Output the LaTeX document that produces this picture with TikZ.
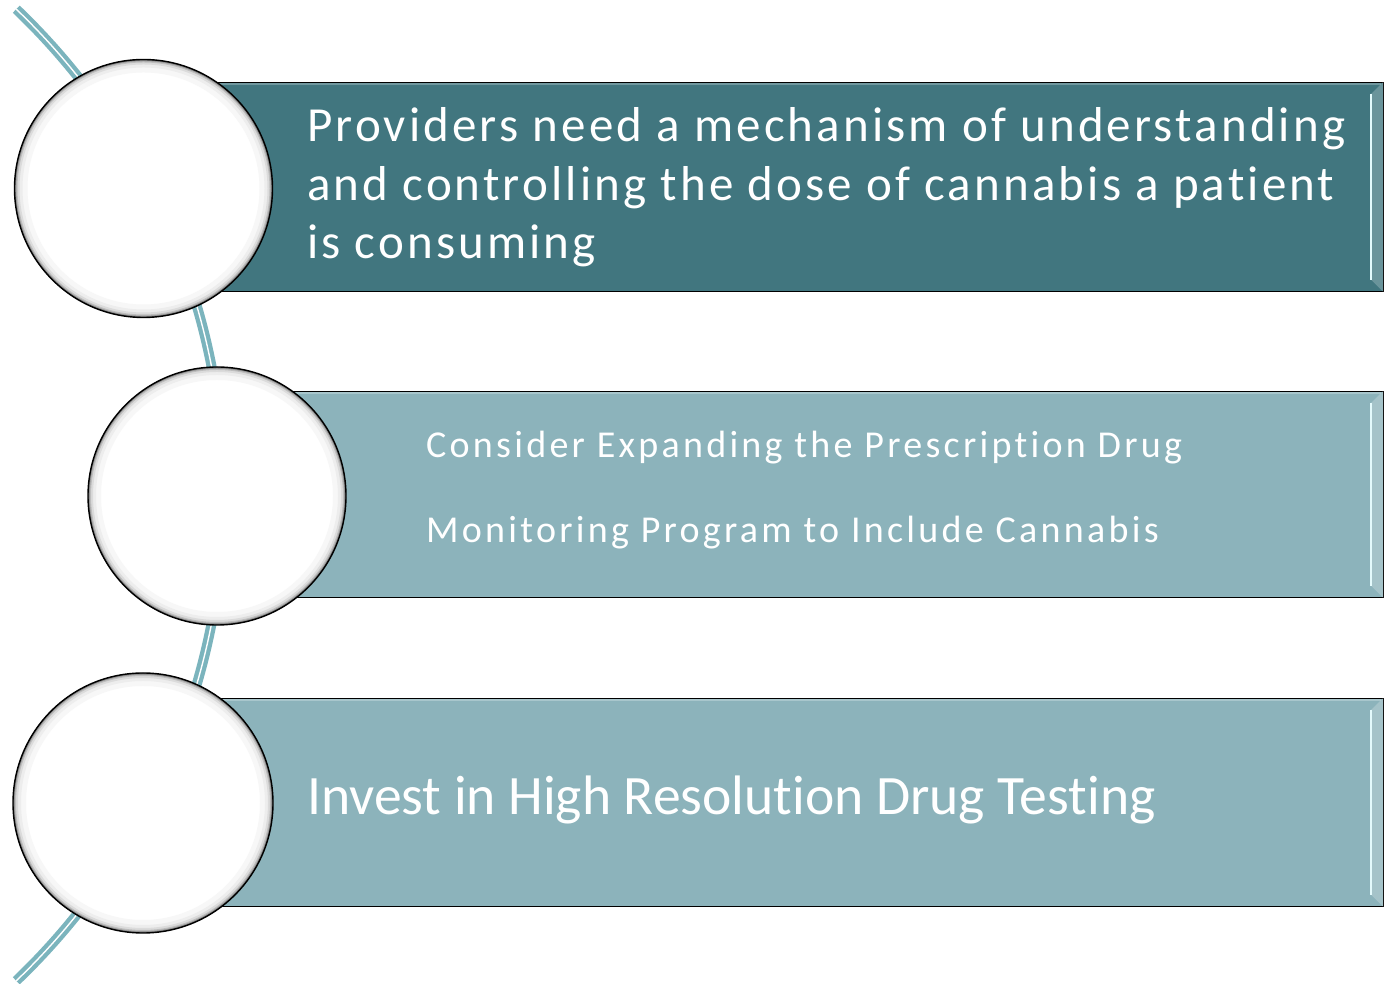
\documentclass[tikz,border=0pt]{standalone}
\usepackage{fontspec}
\setmainfont{Carlito}[Ligatures=NoCommon]
\newfontfamily\textA{Carlito}[LetterSpace=6.4,Ligatures=NoCommon]
\newfontfamily\textB{Carlito}[LetterSpace=8.6,Ligatures=NoCommon]
\begin{document}
\begin{tikzpicture}[x=1pt,y=1pt]
\definecolor{darkteal}{HTML}{41767F}
\definecolor{lightteal}{HTML}{8CB3BB}
\definecolor{arcteal}{HTML}{7BB4BD}
\definecolor{bevel}{HTML}{E4FAFC}
\tikzset{
  bar/.style={draw=black, line width=1.4pt, anchor=south west, inner sep=0pt},
  bubblenode/.style={circle, draw=black, line width=1.4pt, fill=white, inner sep=0pt,
    path picture={
      \foreach \w/\c in {26/3, 16/7, 10/14, 6/26, 3.5/42, 1.6/62}{
        \draw[line width=\w pt, black!\c] (path picture bounding box.center) circle (#1);
      }
    }},
  bartext/.style={text=white, anchor=base west, align=left, inner sep=0pt},
  bevelface/.style={fill=white, fill opacity=0.22, draw=none},
  ridge/.style={line width=2pt, color=bevel},
  tophl/.style={line width=1.5pt, white, opacity=0.25},
  spine/.style={color=arcteal, line width=10pt},
  spinecore/.style={color=white, line width=1.4pt}
}
\useasboundingbox (0,0) rectangle (1396,984);
% spine arc
\coordinate (ac) at (-448,489);
\draw[spine] (ac) ++(46.3:672) arc[start angle=46.3, end angle=-46.3, radius=672];
\draw[spinecore] (ac) ++(46.3:672) arc[start angle=46.3, end angle=-46.3, radius=672];
% bars
\node[bar, fill=darkteal, minimum width=1240, minimum height=209] (b1) at (143,692) {};
\node[bar, fill=lightteal, minimum width=1166, minimum height=206] (b2) at (217,386) {};
\node[bar, fill=lightteal, minimum width=1240, minimum height=208] (b3) at (143,77) {};
% bevels
\foreach \b in {b1,b2,b3}{
  \draw[tophl] ([yshift=-2.5]\b.north west) -- ([xshift=-3,yshift=-2.5]\b.north east);
  \fill[bevelface] ([xshift=-1]\b.north east) -- ([xshift=-13,yshift=-12]\b.north east) -- ([xshift=-13,yshift=12]\b.south east) -- ([xshift=-1]\b.south east) -- cycle;
  \draw[ridge] ([xshift=-13,yshift=-12]\b.north east) -- ([xshift=-13,yshift=12]\b.south east);
}
% circles
\node[bubblenode=129, minimum size=258] (c1) at (143.5,795.5) {};
\node[bubblenode=129, minimum size=258] (c2) at (217,488) {};
\node[bubblenode=130, minimum size=260] (c3) at (143,181) {};
% texts
\node[bartext, font=\textA\fontsize{49}{58.5}\selectfont] (t1) at (307,725) {Providers need a mechanism of understanding\\and controlling the dose of cannabis a patient\\is consuming};
\node[bartext, font=\textB\fontsize{38}{85}\selectfont] (t2) at (426,441) {Consider Expanding the Prescription Drug\\Monitoring Program to Include Cannabis};
\node[bartext, font=\fontsize{55.6}{60}\selectfont] (t3) at (307,169) {Invest in High Resolution Drug Testing};
\end{tikzpicture}
\end{document}
